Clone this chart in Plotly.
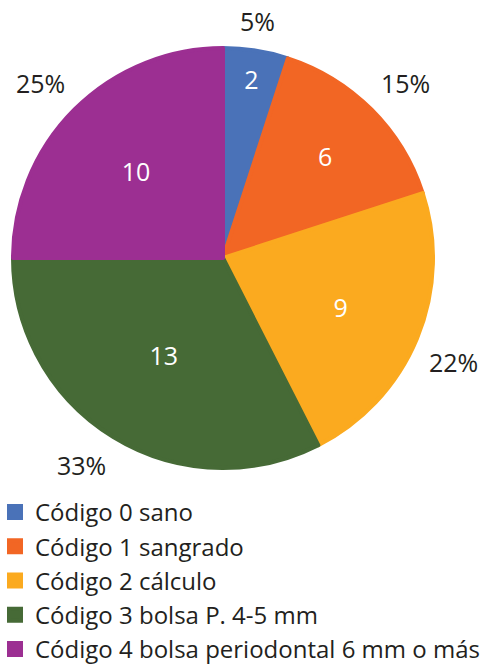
import math
import plotly.graph_objects as go

# data
categories = [
    "Código 0 sano",
    "Código 1 sangrado",
    "Código 2 cálculo",
    "Código 3 bolsa P. 4-5 mm",
    "Código 4 bolsa periodontal 6 mm o más",
]
counts = [2, 6, 9, 13, 10]
pct_labels = ["5%", "15%", "22%", "33%", "25%"]
colors = ["#4a72b8", "#f26624", "#fbaa1f", "#466a36", "#9c2f92"]

W, H = 492, 668
font_name = "Open Sans"
text_color = "#231f20"
edge = 4  # slice outline in its own colour, makes legend squares bigger

# pie domain (paper coords)
dom_x = [(11 + edge / 2) / W, (435 - edge / 2) / W]
dom_y = [1 - (470 - edge / 2) / H, 1 - (46 + edge / 2) / H]

fig = go.Figure()

fig.add_trace(go.Pie(
    labels=categories,
    values=counts,
    sort=False,
    direction="clockwise",
    rotation=0,
    marker=dict(colors=colors, line=dict(width=edge, color=colors)),
    textinfo="value",
    textposition="inside",
    insidetextorientation="horizontal",
    textfont=dict(family=font_name, size=25, color="white"),
    domain=dict(x=dom_x, y=dom_y),
))

# percentage labels just outside the rim, at the middle angle of each slice
cx = (dom_x[0] + dom_x[1]) / 2 * W
cy = (dom_y[0] + dom_y[1]) / 2 * H
radius = (dom_x[1] - dom_x[0]) * W / 2 + edge / 2
total = sum(counts)
cum = 0
for v, lab in zip(counts, pct_labels):
    mid = (cum + v / 2) / total * 2 * math.pi
    cum += v
    s, c = math.sin(mid), math.cos(mid)
    px = cx + (radius + 9) * s
    py = cy + (radius + 9) * c
    xa = "center" if abs(s) < 0.3 else ("left" if s > 0 else "right")
    ya = "middle" if abs(c) < 0.3 else ("bottom" if c > 0 else "top")
    fig.add_annotation(
        x=px / W, y=py / H, xref="paper", yref="paper",
        xanchor=xa, yanchor=ya,
        text=lab, showarrow=False,
        font=dict(family=font_name, size=25, color=text_color),
    )

fig.update_layout(
    width=W,
    height=H,
    margin=dict(l=0, r=0, t=0, b=0, autoexpand=False),
    paper_bgcolor="white",
    showlegend=True,
    legend=dict(
        x=-5 / W, y=1 - 490 / H,
        xanchor="left", yanchor="top",
        font=dict(family=font_name, size=24, color=text_color),
        itemwidth=30,
        bgcolor="rgba(0,0,0,0)",
    ),
)

fig.write_html("out.html", config={"displayModeBar": False},
               post_script="document.body.style.margin='0px';")
